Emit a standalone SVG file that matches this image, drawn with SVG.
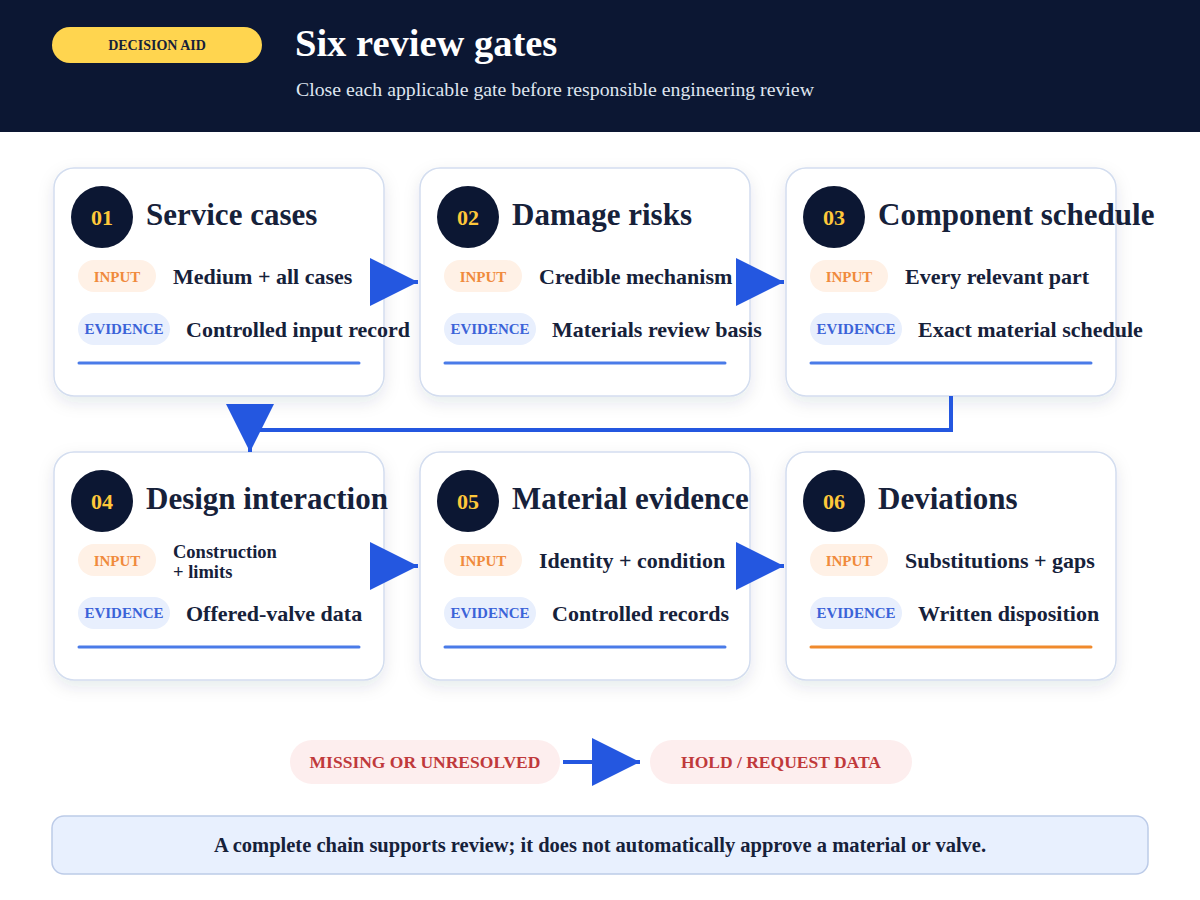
<svg xmlns="http://www.w3.org/2000/svg" width="1200" height="900" viewBox="0 0 1200 900">
<style>
text{font-family:"Liberation Serif","Times New Roman",serif;font-weight:bold}
.card{fill:#fff;stroke:#d3ddef;stroke-width:1.5}
.num{fill:#0c1733}
.numt{fill:#ffc83a;font-size:22px;text-anchor:middle}
.title{fill:#16213a;font-size:31px}
.pin{fill:#fff1e6}.pev{fill:#e8effd}
.lin{fill:#f08a3c;font-size:15px;text-anchor:middle}
.lev{fill:#3b63d8;font-size:15px;text-anchor:middle}
.val{fill:#16213a;font-size:22px}
.bar{stroke:#4a7be8;stroke-width:3;stroke-linecap:round}
.conn{stroke:#2457e0;stroke-width:4;fill:none}
</style>
<defs>
<marker id="ah" markerUnits="userSpaceOnUse" markerWidth="48" markerHeight="48" refX="48" refY="24" orient="auto"><path d="M0,0L48,24L0,48z" fill="#2457e0"/></marker>
<filter id="sh" x="-10%" y="-10%" width="120%" height="130%"><feDropShadow dx="0" dy="6" stdDeviation="8" flood-color="#1a2a55" flood-opacity="0.10"/></filter>
</defs>
<rect width="1200" height="900" fill="#fff"/>
<rect width="1200" height="132" fill="#0c1733"/>
<rect x="52" y="27" width="210" height="36" rx="18" fill="#ffd54f"/>
<text x="157" y="50" font-size="14" fill="#16213a" text-anchor="middle">DECISION AID</text>
<text x="295" y="56" font-size="38.5" fill="#fff">Six review gates</text>
<text x="296" y="96" font-size="19.8" fill="#dfe5ef" style="font-weight:normal">Close each applicable gate before responsible engineering review</text>

<g id="n1"><rect class="card" filter="url(#sh)" x="54" y="168" width="330" height="228" rx="20"/>
<circle class="num" cx="102" cy="217" r="31"/><text class="numt" x="102" y="225">01</text>
<text class="title" x="146" y="225">Service cases</text>
<rect class="pin" x="78" y="260" width="78" height="32" rx="16"/><text class="lin" x="117" y="282">INPUT</text>
<text class="val" x="173" y="284">Medium + all cases</text>
<rect class="pev" x="78" y="313" width="92" height="32" rx="16"/><text class="lev" x="124" y="334">EVIDENCE</text>
<text class="val" x="186" y="337">Controlled input record</text>
<line class="bar" x1="79" y1="363" x2="359" y2="363"/></g>

<g id="n2"><rect class="card" filter="url(#sh)" x="420" y="168" width="330" height="228" rx="20"/>
<circle class="num" cx="468" cy="217" r="31"/><text class="numt" x="468" y="225">02</text>
<text class="title" x="512" y="225">Damage risks</text>
<rect class="pin" x="444" y="260" width="78" height="32" rx="16"/><text class="lin" x="483" y="282">INPUT</text>
<text class="val" x="539" y="284">Credible mechanism</text>
<rect class="pev" x="444" y="313" width="92" height="32" rx="16"/><text class="lev" x="490" y="334">EVIDENCE</text>
<text class="val" x="552" y="337">Materials review basis</text>
<line class="bar" x1="445" y1="363" x2="725" y2="363"/></g>

<g id="n3"><rect class="card" filter="url(#sh)" x="786" y="168" width="330" height="228" rx="20"/>
<circle class="num" cx="834" cy="217" r="31"/><text class="numt" x="834" y="225">03</text>
<text class="title" x="878" y="225">Component schedule</text>
<rect class="pin" x="810" y="260" width="78" height="32" rx="16"/><text class="lin" x="849" y="282">INPUT</text>
<text class="val" x="905" y="284">Every relevant part</text>
<rect class="pev" x="810" y="313" width="92" height="32" rx="16"/><text class="lev" x="856" y="334">EVIDENCE</text>
<text class="val" x="918" y="337">Exact material schedule</text>
<line class="bar" x1="811" y1="363" x2="1091" y2="363"/></g>

<g id="n4"><rect class="card" filter="url(#sh)" x="54" y="452" width="330" height="228" rx="20"/>
<circle class="num" cx="102" cy="501" r="31"/><text class="numt" x="102" y="509">04</text>
<text class="title" x="146" y="509">Design interaction</text>
<rect class="pin" x="78" y="544" width="78" height="32" rx="16"/><text class="lin" x="117" y="566">INPUT</text>
<text class="val" x="173" y="558" style="font-size:18.5px">Construction</text>
<text class="val" x="173" y="578" style="font-size:18.5px">+ limits</text>
<rect class="pev" x="78" y="597" width="92" height="32" rx="16"/><text class="lev" x="124" y="618">EVIDENCE</text>
<text class="val" x="186" y="621">Offered-valve data</text>
<line class="bar" x1="79" y1="647" x2="359" y2="647"/></g>

<g id="n5"><rect class="card" filter="url(#sh)" x="420" y="452" width="330" height="228" rx="20"/>
<circle class="num" cx="468" cy="501" r="31"/><text class="numt" x="468" y="509">05</text>
<text class="title" x="512" y="509">Material evidence</text>
<rect class="pin" x="444" y="544" width="78" height="32" rx="16"/><text class="lin" x="483" y="566">INPUT</text>
<text class="val" x="539" y="568">Identity + condition</text>
<rect class="pev" x="444" y="597" width="92" height="32" rx="16"/><text class="lev" x="490" y="618">EVIDENCE</text>
<text class="val" x="552" y="621">Controlled records</text>
<line class="bar" x1="445" y1="647" x2="725" y2="647"/></g>

<g id="n6"><rect class="card" filter="url(#sh)" x="786" y="452" width="330" height="228" rx="20"/>
<circle class="num" cx="834" cy="501" r="31"/><text class="numt" x="834" y="509">06</text>
<text class="title" x="878" y="509">Deviations</text>
<rect class="pin" x="810" y="544" width="78" height="32" rx="16"/><text class="lin" x="849" y="566">INPUT</text>
<text class="val" x="905" y="568">Substitutions + gaps</text>
<rect class="pev" x="810" y="597" width="92" height="32" rx="16"/><text class="lev" x="856" y="618">EVIDENCE</text>
<text class="val" x="918" y="621">Written disposition</text>
<line class="bar" x1="811" y1="647" x2="1091" y2="647" style="stroke:#f08a2c"/></g>

<g id="missing"><rect x="290" y="740" width="270" height="44" rx="22" fill="#fdeeee"/>
<text x="425" y="768" font-size="17.5" fill="#c0393b" text-anchor="middle">MISSING OR UNRESOLVED</text></g>
<g id="hold"><rect x="650" y="740" width="262" height="44" rx="22" fill="#fdeeee"/>
<text x="781" y="768" font-size="17.5" fill="#c0393b" text-anchor="middle">HOLD / REQUEST DATA</text></g>
<g id="note"><rect x="52" y="816" width="1096" height="58" rx="12" fill="#e8f0fe" stroke="#bccbe8" stroke-width="1.5"/>
<text x="600" y="852" font-size="20.5" fill="#16213a" text-anchor="middle">A complete chain supports review; it does not automatically approve a material or valve.</text></g>

<g id="connectors">
<line class="conn" x1="371" y1="282" x2="418" y2="282" marker-end="url(#ah)"/>
<line class="conn" x1="737" y1="282" x2="784" y2="282" marker-end="url(#ah)"/>
<path class="conn" d="M951,396V430H250V452" marker-end="url(#ah)"/>
<line class="conn" x1="371" y1="566" x2="418" y2="566" marker-end="url(#ah)"/>
<line class="conn" x1="737" y1="566" x2="784" y2="566" marker-end="url(#ah)"/>
<line class="conn" x1="563" y1="762" x2="640" y2="762" marker-end="url(#ah)"/>
</g>
</svg>
